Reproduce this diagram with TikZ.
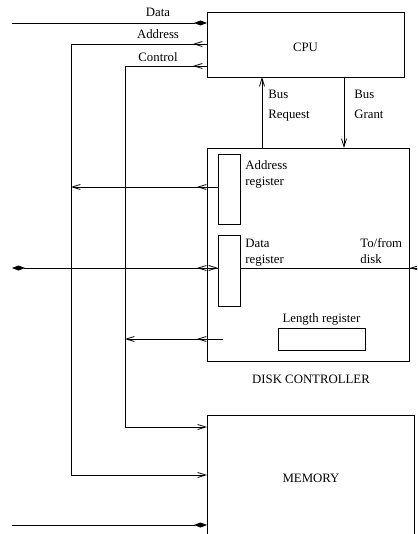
\documentclass[tikz,border=0pt]{standalone}
\usepackage{fontspec}
\setmainfont{Liberation Serif}
\usetikzlibrary{arrows.meta}
\begin{document}
\begin{tikzpicture}[x=1pt,y=-1pt,line width=0.8pt,
  >={Straight Barb[length=8pt,width=5pt]},
  dia/.tip={Kite[length=13pt,width=5pt,inset=6.5pt]},
  box/.style={draw,rectangle,inner sep=0pt,outer sep=0pt,anchor=north west},
  lbl/.style={inner sep=0pt,font=\fontsize{12.8}{15}\selectfont}]
\useasboundingbox (0,0) rectangle (417,534);
\clip (0,0) rectangle (417,534);

% boxes
\node[box,minimum width=197pt,minimum height=65pt] (cpu) at (207,12) {};
\node[box,minimum width=202pt,minimum height=213pt] (dc) at (207,148) {};
\node[box,minimum width=22pt,minimum height=70pt] (areg) at (218,154) {};
\node[box,minimum width=22pt,minimum height=71pt] (dreg) at (218,235) {};
\node[box,minimum width=87pt,minimum height=22pt] (lreg) at (278,328) {};
\node[box,minimum width=207pt,minimum height=140pt] (mem) at (207,415) {};

% box labels
\node[lbl,anchor=base] at (cpu.center |- 0,51.5) {CPU};
\node[lbl,anchor=base] at (311,383) {DISK CONTROLLER};
\node[lbl,anchor=base] at (mem.north -| 311,0) [yshift=-67pt] {MEMORY};
\node[lbl,anchor=base west] at (245,170) {Address};
\node[lbl,anchor=base west] at (245,186) {register};
\node[lbl,anchor=base west] at (245,247) {Data};
\node[lbl,anchor=base west] at (245,263) {register};
\node[lbl,anchor=base west] at (360,247) {To/from};
\node[lbl,anchor=base west] at (360,263) {disk};
\node[lbl,anchor=base] at (lreg.north) [yshift=6pt] {Length register};

% system bus labels
\node[lbl,anchor=base] at (158,17) {Data};
\node[lbl,anchor=base] at (158,39) {Address};
\node[lbl,anchor=base] at (158,62) {Control};

% named points
\coordinate (dL) at (12,23);
\coordinate (aY) at (0,44);
\coordinate (cY) at (0,66);
\coordinate (aX) at (71,0);
\coordinate (cX) at (125,0);
\coordinate (br) at (262,0);
\coordinate (bg) at (344,0);
\coordinate (arY) at (0,187);
\coordinate (drL) at (12,268);
\coordinate (drR) at (420,268);
\coordinate (ls) at (223,339);
\coordinate (mc) at (0,427);
\coordinate (ma) at (0,475);
\coordinate (mdL) at (12,525);

% data bus to CPU
\draw[-{dia}] (dL) -- (cpu.west |- dL);

% address bus: CPU to memory
\draw[->] (cpu.west |- aY) -- (aX |- aY) -- (aX |- ma) -- (mem.west |- ma);
\draw[->] (cpu.west |- aY) -- ++(-14,0);

% control bus: CPU to memory
\draw[->] (cpu.west |- cY) -- (cX |- cY) -- (cX |- mc) -- (mem.west |- mc);
\draw[->] (cpu.west |- cY) -- ++(-14,0);

% bus request / grant
\draw[->] (dc.north -| br) -- (cpu.south -| br);
\draw[->] (cpu.south -| bg) -- (dc.north -| bg);
\node[lbl,anchor=base west] at (268,99) {Bus};
\node[lbl,anchor=base west] at (268,119) {Request};
\node[lbl,anchor=base west] at (354,99) {Bus};
\node[lbl,anchor=base west] at (354,119) {Grant};

% address register to address bus
\draw[->] (areg.west |- arY) -- (aX |- arY);
\draw[->] (dc.west |- arY) -- ++(-10,0);

% data register to data bus and disk
\draw[{dia}-] (drL) -- (dreg.west |- drL);
\draw[->] (dc.west |- drL) -- ++(-10,0);
\draw[->] (dc.west |- drL) -- (dreg.west |- drL);
\draw (dreg.east |- drL) -- (drR);
\draw[->] (drR) -- (410,268);

% controller to control bus
\draw[->] (ls) -- (cX |- ls);
\draw[->] (dc.west |- ls) -- ++(-10,0);

% data bus to memory
\draw[-{dia}] (mdL) -- (mem.west |- mdL);
\end{tikzpicture}
\end{document}
